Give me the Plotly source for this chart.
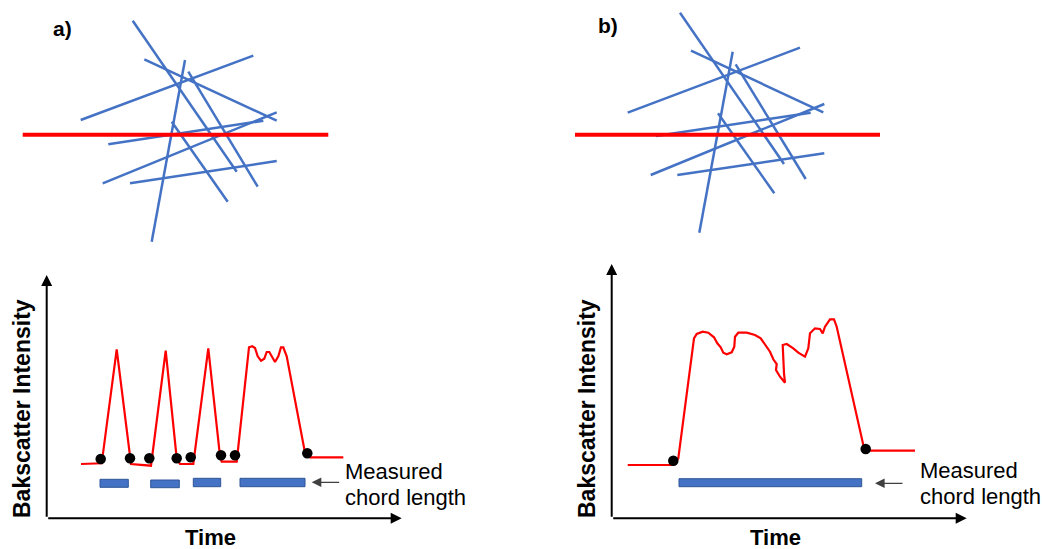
import plotly.graph_objects as go

# ---------------------------------------------------------------------------
# Schematic: fibre suspension crossed by a laser scan line (top) and the
# resulting backscatter signal with the measured chord lengths (bottom).
# All coordinates are in canvas pixels (x to the right, y downwards).
# ---------------------------------------------------------------------------

# Fibre segments, panel a: (x0, y0, x1, y1)
fibres_a = [
    (132.7, 20.7, 236.7, 171.7),
    (144.3, 59.3, 276.7, 120.7),
    (185.0, 60.0, 151.7, 241.7),
    (188.3, 71.7, 257.7, 186.7),
    (253.3, 55.7, 80.7, 120.0),
    (276.7, 112.3, 102.7, 183.3),
    (263.3, 120.7, 108.3, 144.3),
    (171.7, 121.7, 227.7, 201.7),
    (276.7, 161.0, 130.0, 183.3),
]
# Fibre segments, panel b
fibres_b = [
    (680.0, 12.7, 784.0, 164.0),
    (691.0, 50.7, 823.3, 112.3),
    (732.7, 51.7, 699.3, 232.7),
    (735.7, 64.3, 805.7, 179.0),
    (800.0, 47.7, 627.7, 112.7),
    (824.3, 104.0, 650.7, 175.0),
    (810.7, 112.7, 656.0, 136.0),
    (718.0, 113.3, 774.3, 193.3),
    (824.3, 153.3, 677.3, 175.0),
]
# Laser scan line: (x0, x1, y)
scan_a = (22.7, 328.3, 134.7)
scan_b = (575.0, 880.0, 134.7)

# Backscatter trace, panel a
signal_a_x = [81, 101.7, 116.7, 130, 131, 151, 165.7, 176.7, 180, 193.3, 208.3,
              220, 221.7, 236.7, 246.7, 249, 252.3, 255, 257.7, 261, 264.3, 266.7,
              269.3, 271.7, 275, 278.3, 281, 283.3, 286.7, 305, 310, 343.3]
signal_a_y = [464, 463.3, 349.3, 459.3, 464, 465.7, 350.7, 458.3, 464, 464, 348.3,
              456, 461.7, 461.7, 364.7, 347.3, 346.3, 348, 356.3, 360.7, 358.7, 352,
              352, 356.3, 362, 356.3, 347.3, 347.3, 356.3, 452.7, 457.3, 457.3]
# Chord edges detected on trace a
edges_a_x = [100.7, 130.0, 149.3, 176.7, 190.7, 221.0, 235.0, 307.3]
edges_a_y = [459.0, 458.3, 458.3, 458.3, 457.3, 455.3, 455.3, 453.3]
# Measured chords, panel a: (x0, x1, y0, y1)
chords_a = [
    (100.0, 128.3, 479.3, 487.3),
    (150.7, 179.3, 480.0, 487.7),
    (193.3, 220.7, 478.3, 486.7),
    (240.0, 305.0, 478.3, 486.7),
]

# Backscatter trace, panel b
signal_b_x = [627.7, 673.3, 678.3, 694, 696.7, 702.7, 708.3, 714, 717.3, 720.7,
              723.3, 726.7, 731.7, 734.3, 735, 738.3, 746.7, 755, 760.7, 765, 770,
              773.3, 776.7, 776, 780, 785, 784, 782.7, 786.7, 793.3, 798.3, 805,
              808.3, 810, 815, 820, 822.7, 825, 830, 834, 836.7, 863.3, 866, 915]
signal_b_y = [465, 465, 458.3, 338.3, 334, 331.7, 332.7, 337.3, 343.3, 347.3,
              352.7, 354.3, 352.3, 346.7, 336.7, 332.7, 332.7, 335, 338.3, 345,
              351.7, 359.3, 364, 370, 376.7, 382.7, 373.3, 345, 344, 348.3, 352.7,
              356.7, 348.3, 333.3, 328.3, 329, 333.3, 326.7, 319.3, 319.3, 326.7,
              445, 450.7, 450.7]
edges_b_x = [673.3, 865.7]
edges_b_y = [460.7, 449.0]
chords_b = [(679.0, 861.7, 478.7, 486.7)]

# Axes of the two signal plots: (origin x, origin y, x tip, y tip)
axes_a = (46.7, 518.3, 401.7, 275.0)
axes_b = (611.7, 518.3, 966.7, 264.0)

# Text content
panel_labels = ["a)", "b)"]
panel_label_pos = [(62, 28), (608, 25)]
y_title = "Bakscatter Intensity"
x_title = "Time"
chord_caption = ["Measured", "chord length"]

FIBRE = "#4472C4"
RED = "#FF0000"
FONT = "Liberation Sans, Arial, sans-serif"


def segments(segs):
    xs, ys = [], []
    for x0, y0, x1, y1 in segs:
        xs += [x0, x1, None]
        ys += [y0, y1, None]
    return xs, ys


fig = go.Figure()

# fibres
for segs in (fibres_a, fibres_b):
    xs, ys = segments(segs)
    fig.add_trace(go.Scatter(x=xs, y=ys, mode="lines",
                             line=dict(color=FIBRE, width=2.5)))

# scan lines
for x0, x1, y in (scan_a, scan_b):
    fig.add_trace(go.Scatter(x=[x0, x1], y=[y, y], mode="lines",
                             line=dict(color=RED, width=4)))

# backscatter signals
for sx, sy in ((signal_a_x, signal_a_y), (signal_b_x, signal_b_y)):
    fig.add_trace(go.Scatter(x=sx, y=sy, mode="lines",
                             line=dict(color=RED, width=2.2)))

# chord edge markers
for ex, ey in ((edges_a_x, edges_a_y), (edges_b_x, edges_b_y)):
    fig.add_trace(go.Scatter(x=ex, y=ey, mode="markers",
                             marker=dict(color="black", size=10.5)))

# chord bars
for x0, x1, y0, y1 in chords_a + chords_b:
    fig.add_shape(type="rect", xref="x", yref="y", x0=x0, x1=x1, y0=y0, y1=y1,
                  fillcolor=FIBRE, line=dict(color="#2F5597", width=1))

annotations = []

# axes with arrowheads
for ox, oy, tx, ty in (axes_a, axes_b):
    for (hx, hy) in ((tx, oy), (ox, ty)):
        annotations.append(dict(x=hx, y=hy, ax=ox, ay=oy, xref="x", yref="y",
                                axref="x", ayref="y", showarrow=True,
                                arrowhead=2, arrowsize=1.1, arrowwidth=2,
                                arrowcolor="black", text=""))
    # axis titles
    annotations.append(dict(x=ox - 24, y=oy - 110, xref="x", yref="y",
                            text="<b>" + y_title + "</b>", textangle=-90,
                            showarrow=False, xanchor="center", yanchor="middle",
                            font=dict(family=FONT, size=23, color="black")))
    annotations.append(dict(x=(ox + tx) / 2 - 14, y=oy + 19, xref="x", yref="y",
                            text="<b>" + x_title + "</b>", showarrow=False,
                            xanchor="center", yanchor="middle",
                            font=dict(family=FONT, size=22, color="black")))

# "Measured chord length" pointer and caption
for (bx, by), (cx, cy) in (((311.7, 482.3), (343.3, 471.5)),
                           ((875.0, 483.3), (917.7, 470.7))):
    annotations.append(dict(x=bx, y=by, ax=bx + 29, ay=by, xref="x", yref="y",
                            axref="x", ayref="y", showarrow=True, arrowhead=2,
                            arrowsize=1.6, arrowwidth=1.2, arrowcolor="#404040",
                            text=""))
    for i, line in enumerate(chord_caption):
        annotations.append(dict(x=cx, y=cy + 26 * i, xref="x", yref="y",
                                text=line, showarrow=False, xanchor="left",
                                yanchor="middle",
                                font=dict(family=FONT, size=22, color="black")))

# panel labels
for lab, (lx, ly) in zip(panel_labels, panel_label_pos):
    annotations.append(dict(x=lx, y=ly, xref="x", yref="y",
                            text="<b>" + lab + "</b>", showarrow=False,
                            xanchor="center", yanchor="middle",
                            font=dict(family=FONT, size=21, color="black")))

fig.update_layout(
    width=1042, height=549,
    margin=dict(l=0, r=0, t=0, b=0),
    paper_bgcolor="white", plot_bgcolor="white",
    showlegend=False,
    xaxis=dict(range=[0, 1042], visible=False, fixedrange=True),
    yaxis=dict(range=[549, 0], visible=False, fixedrange=True),
    annotations=annotations,
)

fig.write_html("out.html", config={"displayModeBar": False})
